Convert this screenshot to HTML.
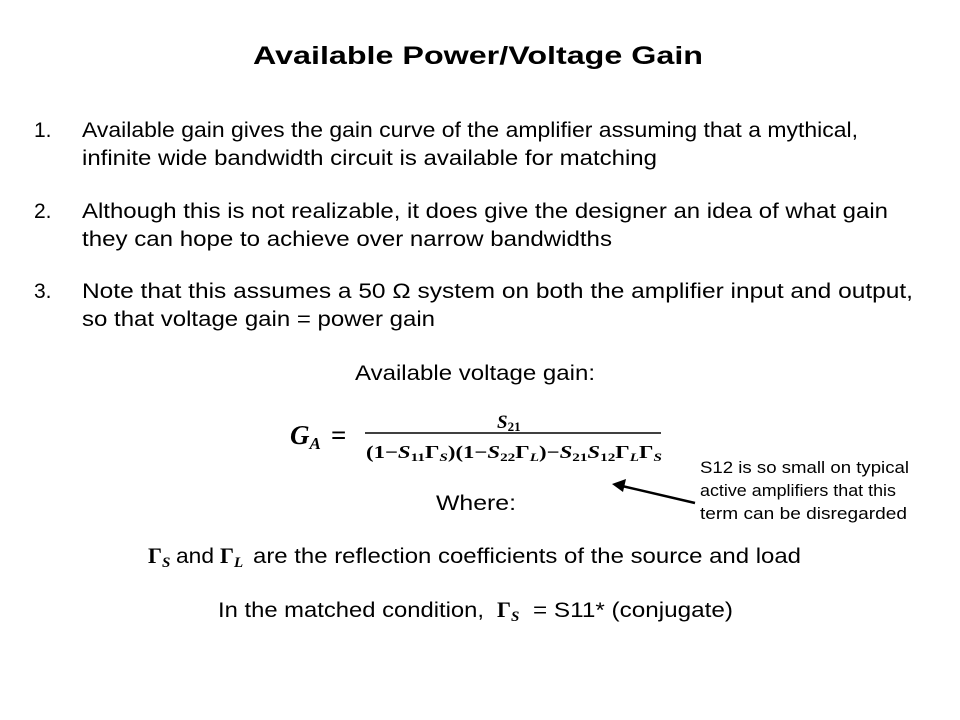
<!DOCTYPE html>
<html><head><meta charset="utf-8"><style>
html,body{margin:0;padding:0;background:#fff;}
svg{display:block}
text{font-family:"Liberation Sans",sans-serif;fill:#000}
.m{font-family:"Liberation Serif",serif;font-weight:bold;font-style:italic}
.mr{font-family:"Liberation Serif",serif;font-weight:bold}
</style></head><body>
<svg width="960" height="720" viewBox="0 0 960 720" xmlns="http://www.w3.org/2000/svg">
<text x="253" y="64" font-size="25" font-weight="bold" textLength="450" lengthAdjust="spacingAndGlyphs">Available Power/Voltage Gain</text>
<g font-size="21">
<text x="34" y="137">1.</text>
<text x="82" y="137" textLength="776" lengthAdjust="spacingAndGlyphs">Available gain gives the gain curve of the amplifier assuming that a mythical,</text>
<text x="82" y="165" textLength="575" lengthAdjust="spacingAndGlyphs">infinite wide bandwidth circuit is available for matching</text>
<text x="34" y="218">2.</text>
<text x="82" y="218" textLength="806" lengthAdjust="spacingAndGlyphs">Although this is not realizable, it does give the designer an idea of what gain</text>
<text x="82" y="246" textLength="530" lengthAdjust="spacingAndGlyphs">they can hope to achieve over narrow bandwidths</text>
<text x="34" y="298">3.</text>
<text x="82" y="298" textLength="831" lengthAdjust="spacingAndGlyphs">Note that this assumes a 50 Ω system on both the amplifier input and output,</text>
<text x="82" y="326" textLength="353" lengthAdjust="spacingAndGlyphs">so that voltage gain = power gain</text>
<text x="355" y="380" textLength="240" lengthAdjust="spacingAndGlyphs">Available voltage gain:</text>
<text x="436" y="510" textLength="80" lengthAdjust="spacingAndGlyphs">Where:</text>
</g>
<text class="m" x="290" y="444" font-size="27">G<tspan font-size="17" dy="5">A</tspan></text>
<text class="mr" x="331" y="444" font-size="27">=</text>
<text class="m" x="497" y="428" font-size="19">S<tspan font-size="13" dy="3" font-style="normal">21</tspan></text>
<line x1="365" y1="433" x2="661" y2="433" stroke="#000" stroke-width="1.5"/>
<text class="mr" x="366" y="458" font-size="18" textLength="296" lengthAdjust="spacingAndGlyphs">(1−<tspan font-style="italic">S</tspan><tspan font-size="12" dy="3">11</tspan><tspan dy="-3">Γ</tspan><tspan font-size="12" dy="3" font-style="italic">S</tspan><tspan dy="-3">)(1−</tspan><tspan font-style="italic">S</tspan><tspan font-size="12" dy="3">22</tspan><tspan dy="-3">Γ</tspan><tspan font-size="12" dy="3" font-style="italic">L</tspan><tspan dy="-3">)−</tspan><tspan font-style="italic">S</tspan><tspan font-size="12" dy="3">21</tspan><tspan dy="-3" font-style="italic">S</tspan><tspan font-size="12" dy="3">12</tspan><tspan dy="-3">Γ</tspan><tspan font-size="12" dy="3" font-style="italic">L</tspan><tspan dy="-3">Γ</tspan><tspan font-size="12" dy="3" font-style="italic">S</tspan></text>
<g font-size="17">
<text x="700" y="473" textLength="209" lengthAdjust="spacingAndGlyphs">S12 is so small on typical</text>
<text x="700" y="496" textLength="196" lengthAdjust="spacingAndGlyphs">active amplifiers that this</text>
<text x="700" y="519" textLength="207" lengthAdjust="spacingAndGlyphs">term can be disregarded</text>
</g>
<line x1="695" y1="503" x2="622" y2="486" stroke="#000" stroke-width="2.5"/>
<polygon points="612,484 626,479 623,492" fill="#000"/>
<text class="mr" x="148" y="563" font-size="22">Γ<tspan font-size="15" dy="4" font-style="italic">S</tspan></text>
<text x="176" y="563" font-size="21" textLength="38" lengthAdjust="spacingAndGlyphs">and</text>
<text class="mr" x="220" y="563" font-size="22">Γ<tspan font-size="15" dy="4" font-style="italic">L</tspan></text>
<text x="253" y="563" font-size="21" textLength="548" lengthAdjust="spacingAndGlyphs">are the reflection coefficients of the source and load</text>
<text x="218" y="617" font-size="21" textLength="266" lengthAdjust="spacingAndGlyphs">In the matched condition,</text>
<text class="mr" x="497" y="617" font-size="22">Γ<tspan font-size="15" dy="4" font-style="italic">S</tspan></text>
<text x="533" y="617" font-size="21" textLength="200" lengthAdjust="spacingAndGlyphs">= S11* (conjugate)</text>
</svg>
</body></html>
